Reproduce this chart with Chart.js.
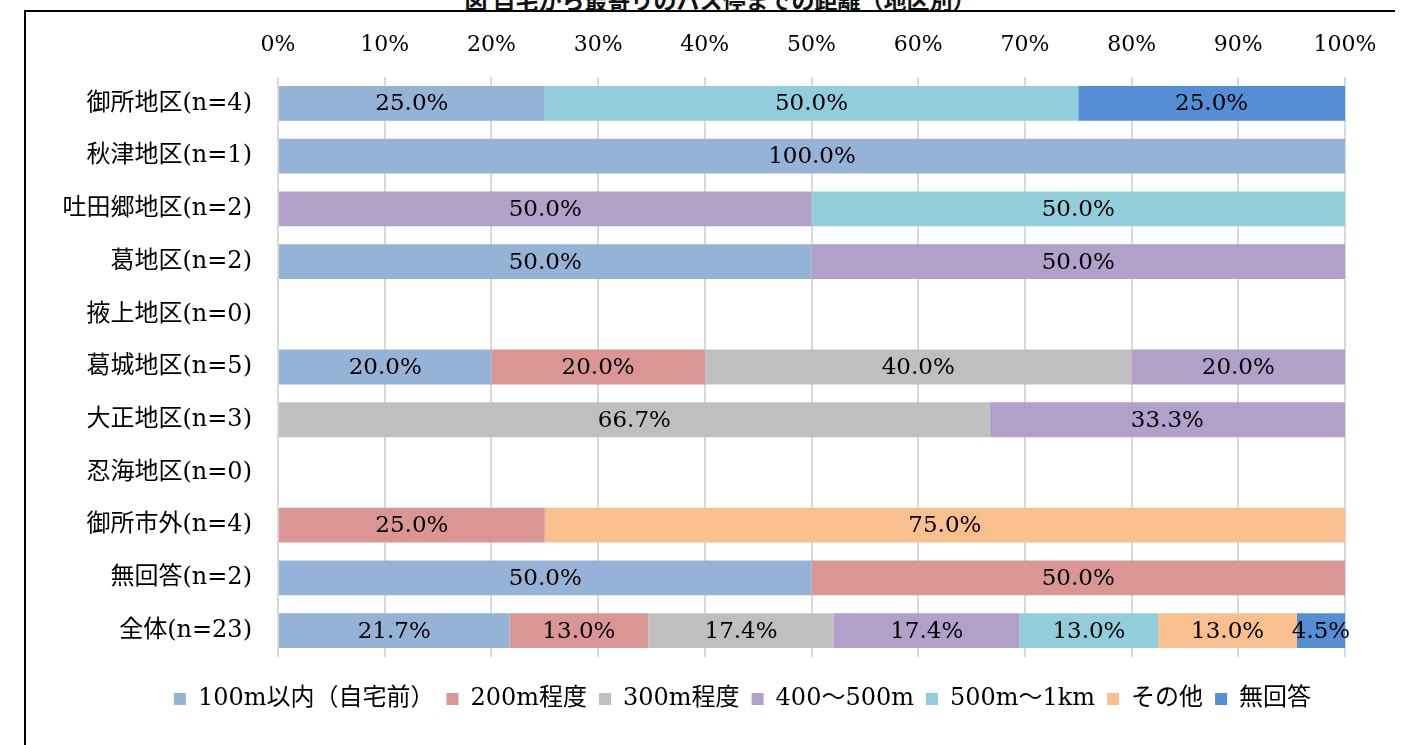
<!DOCTYPE html>
<html lang="ja">
<head>
<meta charset="utf-8">
<title>自宅から最寄りのバス停までの距離</title>
<script src="https://cdn.jsdelivr.net/npm/chart.js@4/dist/chart.umd.min.js"></script>
<style>
  html, body { margin: 0; padding: 0; background: #fff; overflow: hidden; }
  #wrap { position: relative; width: 1402px; height: 745px; }
  #frame {
    position: absolute; left: 24px; top: 10px; width: 1369px; height: 740px;
    border-top: 2px solid #000; border-left: 2px solid #000;
  }
  #title {
    position: absolute; left: 0; width: 1440px; top: -18px; text-align: center;
    font: bold 23px "Noto Sans CJK JP", sans-serif; color: #111;
  }
  canvas { position: absolute; left: 0; top: 0; }
</style>
</head>
<body>
<div id="wrap">
  <div id="frame"></div>
  <div id="title">図 自宅から最寄りのバス停までの距離（地区別）</div>
  <canvas id="distChart" width="1402" height="745"></canvas>
</div>
<script>
const FONT_FAMILY = '"DejaVu Serif", "Noto Sans CJK JP", serif';

const areas = [
  '御所地区(n=4)', '秋津地区(n=1)', '吐田郷地区(n=2)', '葛地区(n=2)', '掖上地区(n=0)',
  '葛城地区(n=5)', '大正地区(n=3)', '忍海地区(n=0)', '御所市外(n=4)', '無回答(n=2)', '全体(n=23)'
];

const seriesNames = ['100m以内（自宅前）', '200m程度', '300m程度', '400～500m', '500m～1km', 'その他', '無回答'];
const seriesColors = ['#95B3D7', '#DA9694', '#BFBFBF', '#B1A0C7', '#92CDDC', '#FABF8F', '#558ED5'];

// one array per series, order follows areas
const within100m = [25.0, 100.0, 0, 50.0, 0, 20.0, 0, 0, 0, 50.0, 21.7];
const about200m  = [0, 0, 0, 0, 0, 20.0, 0, 0, 25.0, 50.0, 13.0];
const about300m  = [0, 0, 0, 0, 0, 40.0, 66.7, 0, 0, 0, 17.4];
const m400to500  = [0, 0, 50.0, 50.0, 0, 20.0, 33.3, 0, 0, 0, 17.4];
const m500to1km  = [50.0, 0, 50.0, 0, 0, 0, 0, 0, 0, 0, 13.0];
const otherDist  = [0, 0, 0, 0, 0, 0, 0, 0, 75.0, 0, 13.0];
const noAnswer   = [25.0, 0, 0, 0, 0, 0, 0, 0, 0, 0, 4.5];

const xTicks = [0, 10, 20, 30, 40, 50, 60, 70, 80, 90, 100];

const seriesValues = [within100m, about200m, about300m, m400to500, m500to1km, otherDist, noAnswer];

/* ─────────────────────────────────────────────
 * segment labels (25.0% etc.)
 * ───────────────────────────────────────────── */
const segmentLabels = {
  id: 'segmentLabels',
  afterDatasetsDraw(chart) {
    const { ctx } = chart;
    ctx.save();
    ctx.font = '23px ' + FONT_FAMILY;
    ctx.fillStyle = '#000';
    ctx.textAlign = 'center';
    ctx.textBaseline = 'middle';
    chart.data.datasets.forEach((ds, i) => {
      chart.getDatasetMeta(i).data.forEach((bar, j) => {
        const v = ds.data[j];
        if (!v) return;
        const cx = (bar.x + bar.base) / 2;
        ctx.fillText(v.toFixed(1) + '%', cx, bar.y + 1);
      });
    });
    ctx.restore();
  }
};

// legend in the original sits a bit right of the canvas centre
const legendShift = {
  id: 'legendShift',
  afterLayout(chart) {
    if (!chart.legend) return;
    chart.legend.left += 70;
    chart.legend.right += 70;
  }
};

new Chart(document.getElementById('distChart').getContext('2d'), {
  type: 'bar',
  data: {
    labels: areas,
    datasets: seriesNames.map((name, i) => ({
      label: name,
      data: seriesValues[i],
      backgroundColor: seriesColors[i],
      borderWidth: 0,
      categoryPercentage: 0.66,
      barPercentage: 1.0,
    })),
  },
  options: {
    indexAxis: 'y',
    responsive: false,
    animation: false,
    layout: { padding: { left: 0, right: 57, top: 0, bottom: 24 } },
    plugins: {
      legend: {
        position: 'bottom',
        labels: {
          boxWidth: 12,
          boxHeight: 12,
          padding: 12,
          color: '#000',
          font: { family: FONT_FAMILY, size: 24 },
        },
      },
      tooltip: { enabled: false },
    },
    scales: {
      x: {
        position: 'top',
        stacked: true,
        min: 0,
        max: 100,
        afterBuildTicks: scale => { scale.ticks = xTicks.map(v => ({ value: v })); },
        afterFit: scale => { scale.height = 77; },
        ticks: {
          padding: 19,
          color: '#000',
          font: { family: FONT_FAMILY, size: 22 },
          maxRotation: 0,
          callback: v => v + '%',
        },
        grid: { color: '#D9D9D9', lineWidth: 2, drawTicks: false },
        border: { display: false },
      },
      // empty spacer between plot and legend
      gap: {
        type: 'linear',
        axis: 'x',
        position: 'bottom',
        afterFit: scale => { scale.height = 18; },
        ticks: { display: false },
        grid: { display: false, drawTicks: false },
        border: { display: false },
      },
      y: {
        stacked: true,
        afterFit: scale => { scale.width = 278; },
        ticks: {
          padding: 26,
          color: '#000',
          font: { family: FONT_FAMILY, size: 24 },
        },
        grid: { display: false, drawTicks: false },
        border: { display: false },
      },
    },
  },
  plugins: [segmentLabels, legendShift],
});
</script>
</body>
</html>
